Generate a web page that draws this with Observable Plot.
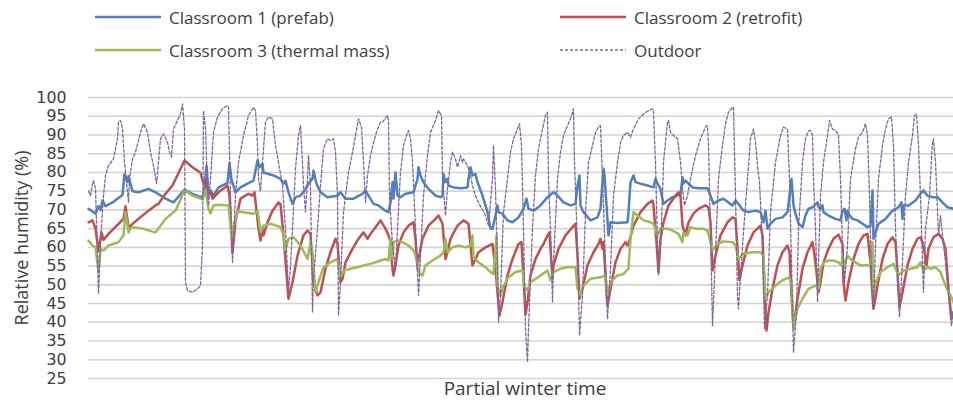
<!DOCTYPE html>
<html>
<head>
<meta charset="utf-8">
<script src="https://cdn.jsdelivr.net/npm/d3@7"></script>
<script src="https://cdn.jsdelivr.net/npm/@observablehq/plot@0.6"></script>
<style>
  html, body { margin: 0; padding: 0; background: #fff; }
  body { width: 953px; height: 405px; overflow: hidden; font-family: "Open Sans", sans-serif; color: #404040; }
  #legend { position: relative; width: 953px; height: 75px; }
  .item { position: absolute; display: flex; align-items: center; height: 24px; font-size: 17px; white-space: nowrap; }
  .item svg { margin-right: 8px; }
</style>
</head>
<body>
<div id="legend"></div>
<div id="chart"></div>
<script>
// Series names and colours
const seriesNames = ["Classroom 1 (prefab)", "Classroom 2 (retrofit)", "Classroom 3 (thermal mass)", "Outdoor"];
const seriesColors = ["#4f81bd", "#c0504d", "#9bbb59", "#8064a2"];
const yTicks = [25, 30, 35, 40, 45, 50, 55, 60, 65, 70, 75, 80, 85, 90, 95, 100];
const xTitle = "Partial winter time";
const yTitle = "Relative humidity (%)";

// Classroom 1 (prefab): time index, RH %
const c1T = [0,7,10,12,14,17,24,34,36,39,40,44,50,60,67,77,85,96,104,112,115,118,120,122,125,130,139,141,143,145,147,152,159,165,169,171,174,175,185,192,195,197,200,204,207,212,217,220,224,225,228,232,239,249,252,257,265,274,277,280,285,290,297,300,302,304,305,307,309,312,317,325,329,330,332,335,340,347,352,354,355,357,359,360,365,372,379,380,382,384,387,389,394,399,402,404,407,409,410,414,419,424,430,435,438,440,445,452,459,465,469,475,482,487,489,491,492,495,502,509,512,515,516,518,520,522,529,539,540,542,545,547,552,559,565,567,569,572,575,579,584,589,592,594,595,597,600,604,610,619,622,625,630,635,640,644,647,650,655,660,667,672,675,677,679,682,687,694,699,701,703,705,707,710,714,717,720,724,729,730,732,734,735,740,747,752,754,756,758,759,760,764,769,774,779,782,784,785,787,790,797,804,810,813,814,815,820,827,832,835,839,844,849,854,859,865];
const c1V = [70.3,69,71,70,72.5,71,72,74,79.6,77.4,79,75,74.7,75.6,74.7,73,72,75.4,74.3,73.4,73.8,81.8,74.7,75.2,73.8,76,77.2,82.5,78,76.5,74.7,76,77,77.8,83.2,81.4,82.3,80,79.2,78.3,77,77.8,74.7,71.6,73.4,73.8,75.6,77,78.3,80.5,77,74.7,73.4,73.8,74.7,73,73,74.3,75.2,73.8,71.6,71.2,69.8,69.4,72,77.4,73,80,73.8,73.4,74.3,74.7,78.3,81.4,79.2,77.4,75.6,73.8,73.4,73.8,79.6,77.4,78.3,76.5,76,75.8,76,78.3,81.4,79.2,79.6,77.4,73.8,69.4,65,65,68.5,71.2,69.4,69,67.2,66.7,68,70.3,73,70.3,69.8,71.2,73.4,74.7,73.8,72,71.2,71.6,76.5,79.2,71.2,69.4,67.2,68,70.3,81,79.2,71.2,63.2,66.7,66.5,66.7,69.4,77.4,79.2,77.4,77,76.5,76,78.3,77,75.6,71.6,72.5,73.4,73.8,74.3,78.7,77,77.8,77,76,75.8,75.8,73.8,71.6,72.5,73,72,71.2,72.5,71.6,69.8,69.4,69.8,69.4,66.7,69.8,65,66.3,67.6,68,69.4,73.8,78.3,71.2,69,66.3,65.4,68.5,70.3,70.7,72,70.7,70.3,71.2,69.4,68.5,67.6,67.2,69.8,70.3,67.2,69.8,69,67.6,67.2,66.3,65.4,65.8,75.2,62.3,64,66.3,67.6,69.8,70.7,72,67.6,71.2,71.2,72.5,74.3,75.2,73.8,73.4,73.4,72,70.7,70.3];

// Classroom 2 (retrofit)
const c2T = [0,4,7,10,13,15,20,30,35,37,40,42,50,60,67,70,77,84,96,104,112,115,117,119,122,124,130,139,141,144,147,152,160,164,166,170,172,174,175,179,184,190,192,195,200,204,209,215,219,222,225,229,232,237,242,247,249,252,254,257,264,270,275,279,282,287,292,297,300,302,304,305,307,310,315,320,325,327,329,330,334,340,347,350,354,357,359,362,369,375,380,382,384,387,390,397,404,407,409,411,414,419,424,430,433,435,437,439,442,447,452,455,459,461,464,465,470,477,484,487,489,491,494,499,505,510,512,514,515,518,519,522,527,532,537,539,540,545,552,559,564,565,568,570,572,575,580,587,590,592,594,597,600,605,610,617,620,622,624,627,632,639,644,647,649,651,654,659,665,672,674,676,678,680,684,689,694,699,701,703,705,709,714,719,724,726,728,730,732,735,740,745,750,754,755,757,760,765,770,775,779,782,784,785,789,794,799,804,807,809,811,814,819,824,829,832,835,838,840,845,850,854,857,860,863,865];
const c2V = [66.7,67.2,65,59,64,62,63.6,66.3,67.6,71,65.4,65.8,67.6,69.8,71.2,71.6,74.3,76.5,83.2,81.4,79.9,77,77.8,73.8,74.7,73,74.7,76.5,73.8,58.5,67,73,74.3,73.8,74.7,65,61.8,65,63.2,66.7,69.8,72,71.6,63.2,46.3,50.7,57.8,63.2,64.5,63.6,50.7,47.2,48,54.3,58.7,62.3,61,50.7,51.6,56,59.6,62.3,64,62.3,63.6,65.4,67.2,65,63.2,61.4,54.3,52.5,55.2,60.5,64,65.8,66.7,62.3,54.3,56.9,62.3,65.8,67.6,68.5,66.3,56.9,58.7,62.3,65.8,67.2,66.3,60.5,55.2,56.9,58.7,60,60.9,54.3,48,41.8,45.4,52.5,56.9,60.9,61.4,52,42,45.4,52.5,56.9,59.6,60.9,63.2,64,51.6,55.2,59.6,63.2,65.4,66.3,57.8,46.3,48.9,55.2,58.7,60.9,62.3,59.6,61.4,48,44.5,48.9,56,59.6,61.4,60.5,60.9,65.8,69.4,71.6,72.5,71.2,61.4,53.4,62.3,66.7,71.2,73.8,74.7,73.8,65.8,63.2,66.7,69,70.3,71.2,70.7,66.7,53.8,57.8,63.2,66.7,68,67.6,59.6,51.2,55.2,60.5,64,65.8,63.2,47.2,37.8,42.7,48.9,55.2,58.7,60.5,58.7,47.2,38.3,46.3,54.3,58.7,61.4,58,53.4,48,50.7,56,59.6,62.3,63.4,60.9,50.7,45.8,50.7,56.9,60.9,63.2,63.6,56,47.2,43.6,49.8,56.9,60.9,62.7,61.4,53.4,44,48,55.2,59.6,62.3,62.7,60.5,55.2,59.6,62.7,63.6,62.3,59.6,48.9,40.9,42.7];

// Classroom 3 (thermal mass)
const c3T = [0,4,7,10,12,15,20,30,35,37,40,42,44,54,64,67,77,87,96,104,114,117,120,122,125,130,140,143,146,149,155,165,169,172,175,182,192,195,197,200,205,212,219,222,224,227,230,235,242,249,252,255,262,269,275,282,290,297,300,302,304,305,309,314,320,325,329,330,334,337,344,352,355,357,359,364,370,377,382,384,385,390,397,402,405,408,409,412,415,420,427,434,436,439,442,447,452,459,462,465,472,479,487,489,492,495,502,512,517,519,522,529,535,540,542,545,549,555,562,565,569,572,579,584,590,594,595,599,602,607,614,619,622,624,629,635,644,647,650,655,664,672,675,677,680,687,694,700,703,705,709,714,720,727,730,732,735,740,745,750,753,754,756,759,762,767,772,779,782,784,785,787,792,799,805,810,815,822,829,832,835,839,842,847,852,857,862,865];
const c3V = [61.8,60.5,60,53.4,59.6,59.2,60.5,61.4,63.2,69.4,64,65.1,65.4,65,64.2,64,67.6,69.8,75.2,73.8,72.8,75.2,70.3,69,71.2,71.4,71.2,62.5,66.7,69.6,69.4,69,69.8,64,65.8,66.3,65.4,63.2,59.2,62.3,62.7,60.5,56.9,61.4,58.7,48,50.7,54.7,56,56.9,52,53.8,54.3,54.7,55.2,55.6,56.3,56.9,56.5,62.3,56.9,61.4,61.8,61.4,60.5,59.2,56,53.4,52.5,55.2,56.5,57.8,58.7,62.3,58.7,60,60.5,60,60.5,63.2,57.4,56,54.7,53.4,52.9,63.2,49.8,47.2,49.8,52,53.4,53.8,49.5,48.5,50.7,51.6,52.5,53.8,51.2,53.4,54.3,54.7,54.7,48.9,47.2,49.8,51.6,52,52.5,47.2,50.7,52.5,52.9,54.3,62.3,69.4,68.5,67.2,66.7,66.3,63.2,65,65,64.5,63.6,61.4,64,63.2,65.4,65,65,64.5,61.4,59.2,60.9,61.6,61.4,60.5,56.9,58.3,58.7,58.7,57.8,46.3,48,49.8,51.2,52,50.7,38.3,43.6,46.3,48.9,49.8,48.9,54.3,56,56.5,56.5,56,55.2,57.8,55.2,57.8,56.9,56,55.2,55.2,55.6,61.4,47.2,50.7,53.4,54.7,55.6,52.5,53.8,54.3,54.7,56,53.8,54.7,54.3,54.7,53.4,49.8,47.2,45.4];

// Outdoor
const outT = [0,2,4,5,7,9,10,12,15,17,20,25,29,30,32,34,36,38,40,41,44,47,52,55,59,62,65,68,70,72,75,79,81,83,85,89,92,94,96,97,99,104,109,112,114,115,117,119,120,122,125,129,134,139,140,142,144,147,150,155,160,165,167,169,170,172,174,177,180,184,187,190,194,197,200,202,204,207,210,212,214,215,217,219,220,222,224,225,229,232,235,239,242,245,247,249,250,252,255,260,264,267,270,273,275,277,279,282,285,289,292,294,299,300,301,304,307,309,312,315,319,320,322,324,327,330,332,335,339,342,347,350,353,354,357,359,362,364,367,369,372,374,375,379,382,384,387,390,397,400,404,405,407,409,410,412,415,419,422,425,429,431,433,435,437,439,440,444,447,450,454,457,459,460,462,464,465,469,472,475,479,482,485,486,489,491,494,497,500,504,507,510,512,514,517,519,522,525,529,532,535,539,542,545,550,555,560,564,565,567,569,570,572,574,575,579,580,582,585,589,592,594,596,599,602,607,612,617,619,620,622,624,626,630,634,637,640,644,645,647,649,650,654,659,662,665,667,669,671,674,676,679,682,687,692,695,699,701,703,705,708,710,714,717,720,722,724,725,727,729,730,732,735,739,741,744,747,750,752,754,756,759,762,767,770,774,777,779,781,783,785,787,790,794,797,800,803,805,807,810,811,814,817,820,824,826,828,830,832,834,835,837,841,844,845,847,850,852,854,857,860,863,865];
const outV = [75,73.8,77,77.8,75.6,57.8,47.6,61.4,73.8,79.2,81.8,83.6,89,93.4,93.9,91.6,82.7,77.4,72,78.3,83.6,85.4,90.7,93,90.7,85.4,81.8,77,82.7,89,90.3,88,85.4,84.1,91.6,93.9,95.6,98.3,91.6,50.7,48.5,48,48.9,49.8,60.5,96.5,91.6,75.6,71.2,78.3,90.7,94.8,97,97.9,97.4,73.8,56,73.8,82.7,89.9,95.2,97.4,96.5,87.2,78.3,75,82.7,93.4,94.8,94.3,87.2,82.7,76.5,65,48,55.2,65,81,89.9,92.5,82.7,76.5,69.4,78.3,84.5,76.5,42.7,51.6,65,76.5,86.3,89,88.5,89,85.4,73.8,41.8,50.7,69.4,80,85.4,89.9,94.3,92.1,82.7,72,79.2,84.5,88,91.6,93.4,93.4,95.2,93.9,73.8,60.5,54.3,65,80,87.2,90.7,91.2,89,82.7,65,47.2,57.8,73.8,84.5,90.7,93.9,96.5,95.2,78.3,68.5,75.6,82.7,85.4,83.6,81.4,84.5,82.7,83.6,81.8,79.2,76.5,73.8,72,68.5,65.8,78.3,87.2,75.6,56,40,47.2,69.4,78.3,85.4,89,91.6,93,87.2,65,38.3,29.4,38.3,65,79.2,86.3,91.6,95.2,96.1,78.3,65,45.4,56,78.3,85.4,89.9,92.5,94.3,97,82.7,60.5,36.5,47.2,69.4,82.7,87.2,90.7,92.1,92.5,78.3,56,40.9,54.3,73.8,82.7,88,89.9,90.7,89.4,91.6,94.3,95.6,96.5,97,96.1,82.7,60.5,52.5,60.5,73.8,82.7,93.4,93.9,90.7,89.9,89,82.7,75.6,71.2,73.8,78.3,84.5,89,92.1,92.5,87.2,65,39.1,51.6,78.3,87.2,93,96.1,97.4,97.4,73.8,47.2,43.6,60.5,78.3,89,91.6,88,81.8,77.4,60.5,38.3,47.2,69.4,82.7,89.9,92.1,91.6,78.3,56,32,42.7,65,82.7,89,91,91.2,89.9,78.3,65,45.4,56,73.8,82.7,89.9,93.9,91.6,91.2,89.9,78.3,60.5,50.7,60.5,78.3,86.3,89.4,90.7,93,89.9,73.8,51.6,43.6,60.5,78.3,87.2,91.6,94.3,94.8,87.2,65,47.2,41.4,56,73.8,82.7,89.9,95.2,95.6,87.2,73.8,56,48,65,73.8,88,89,82.7,63.2,68.5,63.2,56,47.2,39.1,43.6];

function rows(T, V) { return T.map((t, i) => ({t, v: V[i]})); }
const d1 = rows(c1T, c1V), d2 = rows(c2T, c2V), d3s = rows(c3T, c3V), d4 = rows(outT, outV);

// Legend (HTML above the SVG)
const legend = document.getElementById("legend");
const legendPos = [[95, 17], [560, 17], [95, 50], [560, 50]];
seriesNames.forEach((name, i) => {
  const div = document.createElement("div");
  div.className = "item";
  div.style.left = legendPos[i][0] + "px";
  div.style.top = (legendPos[i][1] - 12) + "px";
  const dash = i === 3 ? 'stroke-dasharray="3,2" stroke-width="1.4"' : 'stroke-width="2.6"';
  div.innerHTML = `<svg width="66" height="6"><line x1="0" x2="66" y1="3" y2="3" stroke="${seriesColors[i]}" ${dash}/></svg><span>${name}</span>`;
  legend.appendChild(div);
});

const chart = Plot.plot({
  width: 953,
  height: 330,
  marginLeft: 88,
  marginRight: 0,
  marginTop: 22,
  marginBottom: 27,
  style: {fontFamily: "'Open Sans', sans-serif", color: "#404040", background: "#fff", overflow: "visible"},
  x: {domain: [0, 865], axis: null},
  y: {domain: [25, 100], axis: null},
  marks: [
    Plot.ruleY(yTicks, {stroke: "#d4d4d4", strokeWidth: 1.6}),
    Plot.axisY(yTicks, {tickSize: 0, tickPadding: 22, fontSize: 15.8, fontFamily: "'DejaVu Sans', sans-serif", label: null}),
    Plot.text([yTitle], {frameAnchor: "left", dx: -66, rotate: -90, textAnchor: "middle", fontSize: 18, fill: "#404040"}),
    Plot.text([xTitle], {frameAnchor: "bottom", dx: 4, dy: 16, fontSize: 19, fill: "#404040"}),
    Plot.line(d1, {x: "t", y: "v", stroke: seriesColors[0], strokeWidth: 2.5}),
    Plot.line(d2, {x: "t", y: "v", stroke: seriesColors[1], strokeWidth: 2.5}),
    Plot.line(d3s, {x: "t", y: "v", stroke: seriesColors[2], strokeWidth: 2.5}),
    Plot.line(d4, {x: "t", y: "v", stroke: seriesColors[3], strokeWidth: 1.3, strokeDasharray: "3,2"})
  ]
});
document.getElementById("chart").appendChild(chart);
</script>
</body>
</html>
